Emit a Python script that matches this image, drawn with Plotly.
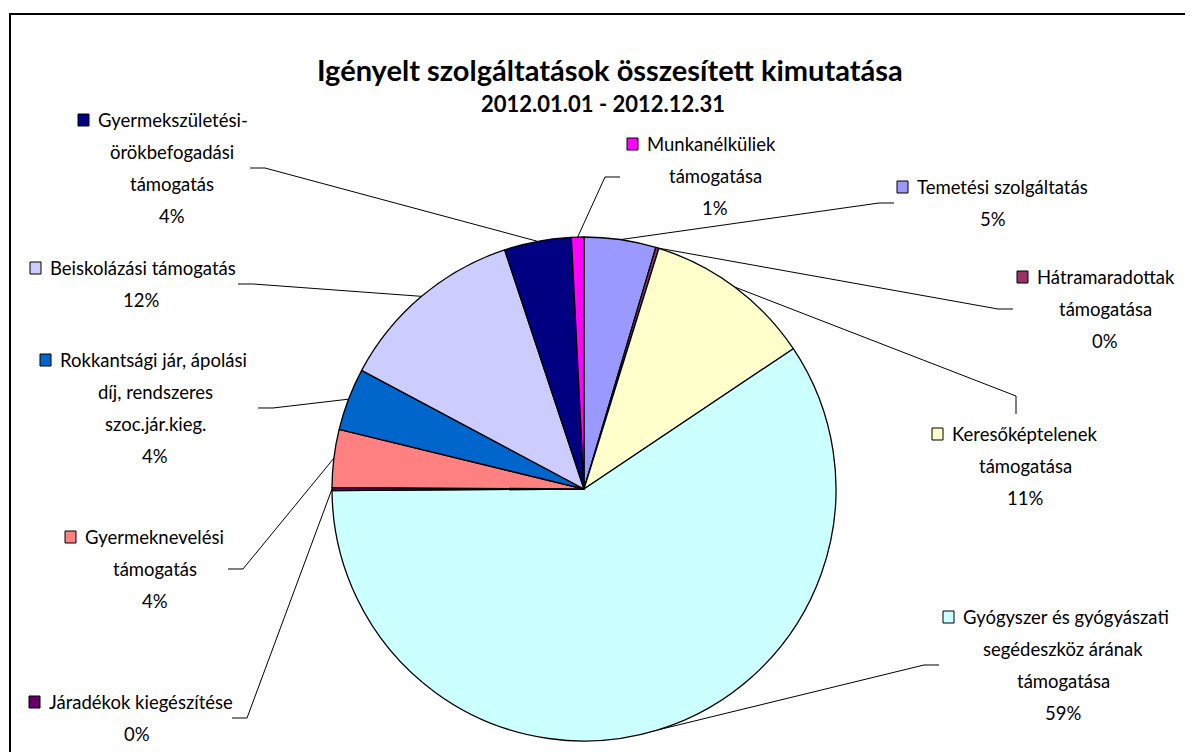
import math
import plotly.graph_objects as go

# ---------------- data ----------------
categories = [
    "Temetési szolgáltatás",
    "Hátramaradottak támogatása",
    "Keresőképtelenek támogatása",
    "Gyógyszer és gyógyászati segédeszköz árának támogatása",
    "Járadékok kiegészítése",
    "Gyermeknevelési támogatás",
    "Rokkantsági jár, ápolási díj, rendszeres szoc.jár.kieg.",
    "Beiskolázási támogatás",
    "Gyermekszületési-örökbefogadási támogatás",
    "Munkanélküliek támogatása",
]
values = [4.6, 0.2, 10.8, 59.3, 0.2, 3.7, 4.0, 12.1, 4.3, 0.8]
label_lines = [
    ["Temetési szolgáltatás"],
    ["Hátramaradottak", "támogatása"],
    ["Keresőképtelenek", "támogatása"],
    ["Gyógyszer és gyógyászati", "segédeszköz árának", "támogatása"],
    ["Járadékok kiegészítése"],
    ["Gyermeknevelési", "támogatás"],
    ["Rokkantsági jár, ápolási", "díj, rendszeres", "szoc.jár.kieg."],
    ["Beiskolázási támogatás"],
    ["Gyermekszületési-", "örökbefogadási", "támogatás"],
    ["Munkanélküliek", "támogatása"],
]
colors = ["#9999FF", "#993366", "#FFFFCC", "#CCFFFF", "#660066",
          "#FF8080", "#0066CC", "#CCCCFF", "#000080", "#FF00FF"]
title_text = "Igényelt szolgáltatások összesített kimutatása"
subtitle_text = "2012.01.01 - 2012.12.31"

# ---------------- layout (pixels, window coordinates) ----------------
W, H = 1193, 752
OFF = 8  # default page body margin
CX, CY, R = 584, 489, 252
LINE = 32
FONT = "Lato, 'Open Sans', sans-serif"
LFS = 18.5

label_pos = [
    dict(key_x=897, y0=187, cx=993, leader=[(894, 203), (879, 203)]),
    dict(key_x=1017, y0=277, cx=1105, leader=[(1013, 309), (998, 309)]),
    dict(key_x=932, y0=434, cx=1025, leader=[(1016, 414), (1016, 396)]),
    dict(key_x=943, y0=617, cx=1063, leader=[(939, 665), (924, 665)]),
    dict(key_x=29, y0=702, cx=137, leader=[(232, 718), (247, 718)]),
    dict(key_x=65, y0=537, cx=155, leader=[(228, 569), (243, 569)]),
    dict(key_x=40, y0=360, cx=155, leader=[(258, 408), (273, 408)]),
    dict(key_x=30, y0=268, cx=141, leader=[(238, 284), (253, 284)]),
    dict(key_x=78, y0=120, cx=172, leader=[(250, 168), (265, 168)]),
    dict(key_x=627, y0=144, cx=715, leader=[(620, 177), (605, 177)]),
]


def px(x):
    return (x - OFF) / W


def py(y):
    return 1 - (y - OFF) / H


fig = go.Figure()
fig.add_trace(go.Pie(
    labels=categories, values=values, sort=False, direction="clockwise",
    rotation=0, textinfo="none", hoverinfo="label+percent",
    marker=dict(colors=colors, line=dict(color="black", width=1.3)),
    domain=dict(x=[px(CX - R), px(CX + R)], y=[py(CY + R), py(CY - R)]),
    showlegend=False,
))

total = sum(values)
shapes = []
annotations = []

# frame
shapes.append(dict(type="rect", xref="paper", yref="paper",
                   x0=px(10), y0=py(14), x1=px(W + 20), y1=py(H + 20),
                   line=dict(color="black", width=2), fillcolor="rgba(0,0,0,0)"))

cum = 0.0
for i, v in enumerate(values):
    mid = (cum + v / 2) / total * 2 * math.pi
    cum += v
    ex = CX + R * math.sin(mid)
    ey = CY - R * math.cos(mid)
    p = label_pos[i]
    pts = p["leader"] + [(ex, ey)]
    path = "M " + " L ".join(f"{px(a):.5f},{py(b):.5f}" for a, b in pts)
    shapes.append(dict(type="path", xref="paper", yref="paper", path=path,
                       line=dict(color="black", width=1)))
    # legend key square
    kx, ky = p["key_x"], p["y0"]
    shapes.append(dict(type="rect", xref="paper", yref="paper",
                       x0=px(kx), x1=px(kx + 11), y0=py(ky + 6), y1=py(ky - 6),
                       fillcolor=colors[i], line=dict(color="black", width=1)))
    pct = f"{int(v / total * 100 + 0.5)}%"
    lines = label_lines[i] + [pct]
    for j, t in enumerate(lines):
        if j == 0:
            annotations.append(dict(x=px(kx + 18), y=py(ky), xref="paper", yref="paper",
                                    text=t, showarrow=False, xanchor="left", yanchor="middle",
                                    font=dict(family=FONT, size=LFS, color="black")))
        else:
            annotations.append(dict(x=px(p["cx"]), y=py(ky + LINE * j), xref="paper", yref="paper",
                                    text=t, showarrow=False, xanchor="center", yanchor="middle",
                                    font=dict(family=FONT, size=LFS, color="black")))

annotations.append(dict(x=px(610), y=py(70), xref="paper", yref="paper", text=f"<b>{title_text}</b>",
                        showarrow=False, xanchor="center", yanchor="middle",
                        font=dict(family=FONT, size=29, color="black")))
annotations.append(dict(x=px(603), y=py(104), xref="paper", yref="paper", text=f"<b>{subtitle_text}</b>",
                        showarrow=False, xanchor="center", yanchor="middle",
                        font=dict(family=FONT, size=22, color="black")))

fig.update_layout(
    width=W, height=H, margin=dict(l=0, r=0, t=0, b=0),
    paper_bgcolor="white", plot_bgcolor="white",
    shapes=shapes, annotations=annotations,
)
fig.write_html("out.html")
